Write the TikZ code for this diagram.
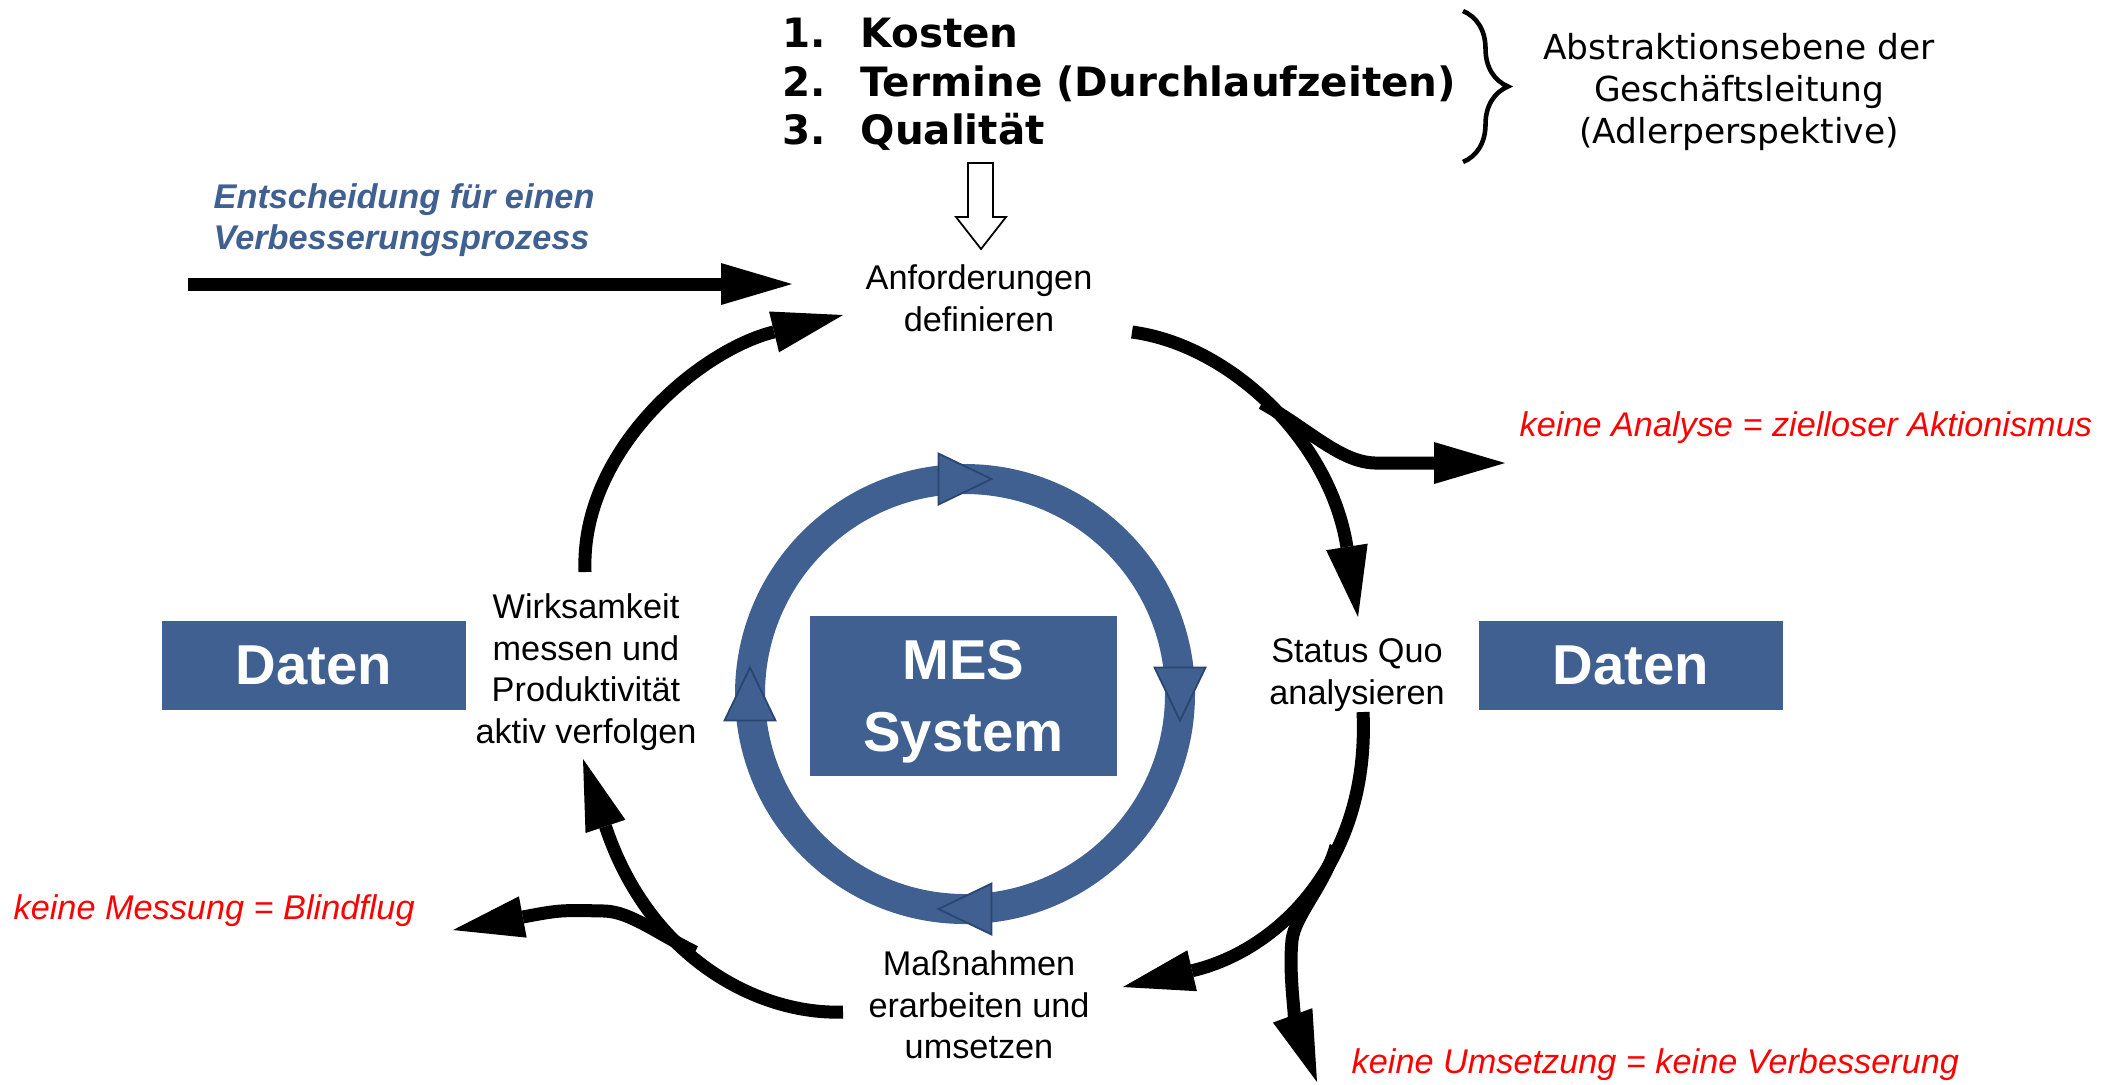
\documentclass[tikz,border=0pt]{standalone}
\usepackage{fontspec}
\setmainfont{Liberation Sans}
\newfontfamily\verdana{DejaVu Sans}
\usepackage{tikz}
\usetikzlibrary{arrows.meta,positioning,calc,decorations.pathreplacing}
\definecolor{mesblau}{HTML}{3F6090}
\definecolor{mesrand}{HTML}{2A4570}
\definecolor{warnrot}{HTML}{FF0000}

\begin{document}
\begin{tikzpicture}[
    schritt/.style={align=center,inner sep=0pt,font=\fontsize{9.75}{11.8}\selectfont},
    block/.style={fill=mesblau,text=white,align=center,inner sep=0pt,font=\fontsize{16}{20}\selectfont\bfseries},
    hinweis/.style={anchor=west,inner sep=0pt,text=warnrot,font=\fontsize{9.75}{11.8}\selectfont\itshape},
    ziel/.style={anchor=base west,inner sep=0pt,font=\verdana\bfseries\fontsize{11.5}{13.8}\selectfont},
    zyklus/.style={line width=3.7pt,-{Triangle[length=7.1mm,width=4.2mm,line width=0pt]}},
    spitze/.style={fill=mesblau,draw=mesrand,line width=0.5pt,line join=miter}
]
    \useasboundingbox (0,0) rectangle (21.14,-10.84);

    % 目标
    \node[ziel] (k1) at (7.82,-0.47) {1.};
    \node[ziel] (k2) at (7.82,-0.96) {2.};
    \node[ziel] (k3) at (7.82,-1.44) {3.};
    \node[ziel] (kosten) at (8.60,-0.47) {Kosten};
    \node[ziel] (termine) at (8.60,-0.96) {Termine (Durchlaufzeiten)};
    \node[ziel] (qualitaet) at (8.60,-1.44) {Qualität};
    \draw[decorate,decoration={brace,amplitude=0.45cm},line width=1.3pt] (14.63,-0.11) -- (14.63,-1.62);
    \node[align=center,inner sep=0pt,font=\verdana\fontsize{9.8}{11.9}\selectfont] (abstr) at (17.39,-0.92)
        {Abstraktionsebene der\\Geschäftsleitung\\(Adlerperspektive)};
    \draw[line width=0.5pt,fill=white] (9.68,-1.63) -- (9.93,-1.63) -- (9.93,-2.17) -- (10.06,-2.17)
        -- (9.81,-2.49) -- (9.56,-2.17) -- (9.68,-2.17) -- cycle;

    % 入口
    \node[anchor=west,align=left,inner sep=0pt,text=mesblau,font=\fontsize{9.75}{11.7}\selectfont\bfseries\itshape] (entsch)
        at (2.13,-2.205) {Entscheidung für einen\\Verbesserungsprozess};
    \coordinate (ein) at (1.88,-2.84);
    \coordinate (einende) at (7.92,-2.84);
    \draw[zyklus] (ein) -- (einende);

    % 环
    \draw[mesblau,line width=0.30cm] (9.65,-6.94) circle (2.15);
    \foreach \w in {90,0,-90,180} {
        \draw[spitze,shift={(9.65,-6.94)},rotate=\w-90] (0.265,2.15) -- (-0.265,2.405) -- (-0.265,1.895) -- cycle;
    }
    \node[block,minimum width=3.07cm,minimum height=1.60cm,text depth=0pt,font=\fontsize{16}{20.5}\selectfont\bfseries] (mes) at (9.635,-6.96) {MES\\System};
    \node[block,minimum width=3.04cm,minimum height=0.89cm] (datenl) at (3.14,-6.655) {Daten};
    \node[block,minimum width=3.04cm,minimum height=0.89cm] (datenr) at (16.31,-6.655) {Daten};

    % 步骤
    \node[schritt] (anf) at (9.79,-2.98) {Anforderungen\\definieren};
    \node[schritt] (stq) at (13.57,-6.75) {Status Quo\\analysieren};
    \node[schritt] (mas) at (9.79,-10.05) {Maßnahmen\\erarbeiten und\\umsetzen};
    \node[schritt] (wirk) at (5.86,-6.72) {Wirksamkeit\\messen und\\Produktivität\\aktiv verfolgen};

    % 提示
    \node[hinweis] (h1) at (15.19,-4.28) {keine Analyse = zielloser Aktionismus};
    \node[hinweis] (h2) at (0.13,-9.11) {keine Messung = Blindflug};
    \node[hinweis] (h3) at (13.51,-10.65) {keine Umsetzung = keine Verbesserung};

    % 箭头
    \coordinate (a1) at (11.32,-3.32);
    \coordinate (a2) at (13.58,-6.17);
    \coordinate (b1) at (13.63,-7.12);
    \coordinate (b2) at (11.23,-9.87);
    \coordinate (c1) at (8.43,-10.12);
    \coordinate (c2) at (5.83,-7.59);
    \coordinate (d1) at (5.85,-5.72);
    \coordinate (d2) at (8.43,-3.15);
    \draw[zyklus] (a1) .. controls (12.3,-3.45) and (13.3,-4.4) .. (a2);
    \draw[zyklus] (b1) .. controls (13.7,-8.6) and (12.8,-9.5) .. (b2);
    \draw[zyklus] (c1) .. controls (7.6,-10.15) and (6.5,-9.6) .. (c2);
    \draw[zyklus] (d1) .. controls (5.8,-4.5) and (7.0,-3.5) .. (d2);

    % 分支
    \coordinate (ha) at (12.62,-4.03);
    \coordinate (hb) at (6.95,-9.52);
    \coordinate (hc) at (13.36,-8.46);
    \coordinate (haende) at (15.05,-4.63);
    \coordinate (hbende) at (4.53,-9.30);
    \coordinate (hcende) at (13.17,-10.82);
    \draw[zyklus] (ha) .. controls (13.1,-4.3) and (13.4,-4.62) .. (13.75,-4.63) -- (haende);
    \draw[zyklus] (hb) .. controls (6.55,-9.32) and (6.3,-9.12) .. (6.05,-9.11) .. controls (5.6,-9.1) .. (hbende);
    \draw[zyklus] (hc) .. controls (13.25,-8.85) and (12.95,-9.15) .. (12.92,-9.4)
        .. controls (12.88,-9.8) and (12.98,-10.3) .. (hcende);
\end{tikzpicture}
\end{document}
